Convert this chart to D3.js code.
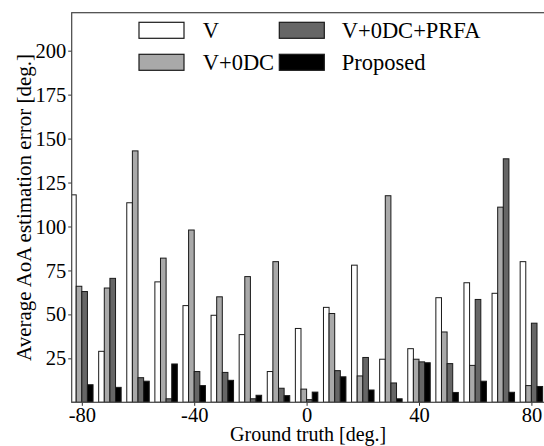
<!DOCTYPE html>
<html>
<head>
<meta charset="utf-8">
<script src="https://cdn.jsdelivr.net/npm/d3@7"></script>
<style>
  html, body { margin: 0; padding: 0; background: #fff; }
  svg text { font-family: "Liberation Serif", "Times New Roman", serif !important; }
</style>
</head>
<body>
<div id="chart"></div>
<script>
// ---- data ----
const categories = [-80, -70, -60, -50, -40, -30, -20, -10, 0, 10, 20, 30, 40, 50, 60, 70, 80];
const seriesNames = ["V", "V+0DC", "V+0DC+PRFA", "Proposed"];
const valuesV        = [118, 29, 113.5, 68.5, 55, 49.5, 38.5, 17.5, 42, 54, 78, 24.5, 30.5, 59.5, 68, 62, 80];
const valuesV0DC     = [66, 65, 143, 82, 98, 60, 71.5, 80, 7.5, 50.5, 15, 117.5, 24.5, 40, 21, 111, 9.5];
const valuesPRFA     = [63, 70.5, 14, 2, 17.5, 17, 2, 8, 1.5, 18, 25.5, 11, 23, 22, 58.5, 138.5, 45];
const valuesProposed = [10, 8.5, 12, 21.8, 9.5, 12.5, 4, 3.8, 5.8, 14.5, 7, 2, 22.5, 5.6, 12, 5.7, 9];
const xTicks = [-80, -40, 0, 40, 80];
const yTicks = [25, 50, 75, 100, 125, 150, 175, 200];
const colors = ["#ffffff", "#a9a9a9", "#666666", "#000000"];

const FONT = "Liberation Serif";
const W = 544, H = 446;
const mLeft = 71.7, mRight = 544.6, mTop = 12.7, mBottom = 402.3;

const svg = d3.select("#chart").append("svg").attr("width", W).attr("height", H);

const x = d3.scaleLinear().domain([-83.6, 84.7]).range([mLeft, mRight]);
const y = d3.scaleLinear().domain([0, 221.6]).range([mBottom, mTop]);

const series = [valuesV, valuesV0DC, valuesPRFA, valuesProposed];
const barW = 2; // degrees
const offsets = [-3, -1, 1, 3];

svg.append("clipPath").attr("id", "clip")
  .append("rect").attr("x", mLeft).attr("y", mTop).attr("width", mRight - mLeft).attr("height", mBottom - mTop);

const gBars = svg.append("g").attr("clip-path", "url(#clip)");
series.forEach((vals, si) => {
  gBars.selectAll(null)
    .data(categories.map((c, i) => ({ c, v: vals[i] })))
    .enter().append("rect")
    .attr("x", d => x(d.c + offsets[si] - barW / 2))
    .attr("width", d => x(d.c + offsets[si] + barW / 2) - x(d.c + offsets[si] - barW / 2))
    .attr("y", d => y(d.v))
    .attr("height", d => y(0) - y(d.v))
    .attr("fill", colors[si])
    .attr("stroke", "#1a1a1a")
    .attr("stroke-width", 1);
});

// axes
const xAxis = d3.axisBottom(x).tickValues(xTicks).tickSize(3.5).tickPadding(2)
  .tickFormat(d => String(d));
const gx = svg.append("g").attr("transform", `translate(0,${mBottom})`).call(xAxis);
gx.select(".domain").remove();
gx.selectAll("text").style("font-size", "20.5px").attr("fill", "#000").style("font-family", FONT);
gx.selectAll("line").attr("stroke", "#333");

const yAxis = d3.axisLeft(y).tickValues(yTicks).tickSize(3.5).tickPadding(2);
const gy = svg.append("g").attr("transform", `translate(${mLeft},0)`).call(yAxis);
gy.select(".domain").remove();
gy.selectAll("text").style("font-size", "20.5px").attr("fill", "#000").style("font-family", FONT);
gy.selectAll("line").attr("stroke", "#333");

// frame
svg.append("rect").attr("x", mLeft).attr("y", mTop).attr("width", mRight - mLeft).attr("height", mBottom - mTop)
  .attr("fill", "none").attr("stroke", "#444").attr("stroke-width", 1.2);

// axis labels
svg.append("text").attr("x", (mLeft + mRight) / 2).attr("y", 441)
  .attr("text-anchor", "middle").style("font-family", FONT).style("font-size", "20px").text("Ground truth [deg.]");
svg.append("text")
  .attr("transform", `translate(31,${(mTop + mBottom) / 2}) rotate(-90)`)
  .attr("text-anchor", "middle").style("font-family", FONT).style("font-size", "21px")
  .text("Average AoA estimation error [deg.]");

// legend
const legendPos = [
  { bx: 139, by: 22.3, tx: 202.7 },
  { bx: 139, by: 54.3, tx: 202.7 },
  { bx: 279.3, by: 22.3, tx: 341.7 },
  { bx: 279.3, by: 54.3, tx: 341.7 }
];
const lg = svg.append("g");
seriesNames.forEach((name, si) => {
  const p = legendPos[si];
  lg.append("rect").attr("x", p.bx).attr("y", p.by).attr("width", 45).attr("height", 16)
    .attr("fill", colors[si]).attr("stroke", "#1a1a1a").attr("stroke-width", 1.2);
  lg.append("text").attr("x", p.tx).attr("y", p.by + 16).style("font-family", FONT).style("font-size", "22.5px")
    .text(name);
});
</script>
</body>
</html>
